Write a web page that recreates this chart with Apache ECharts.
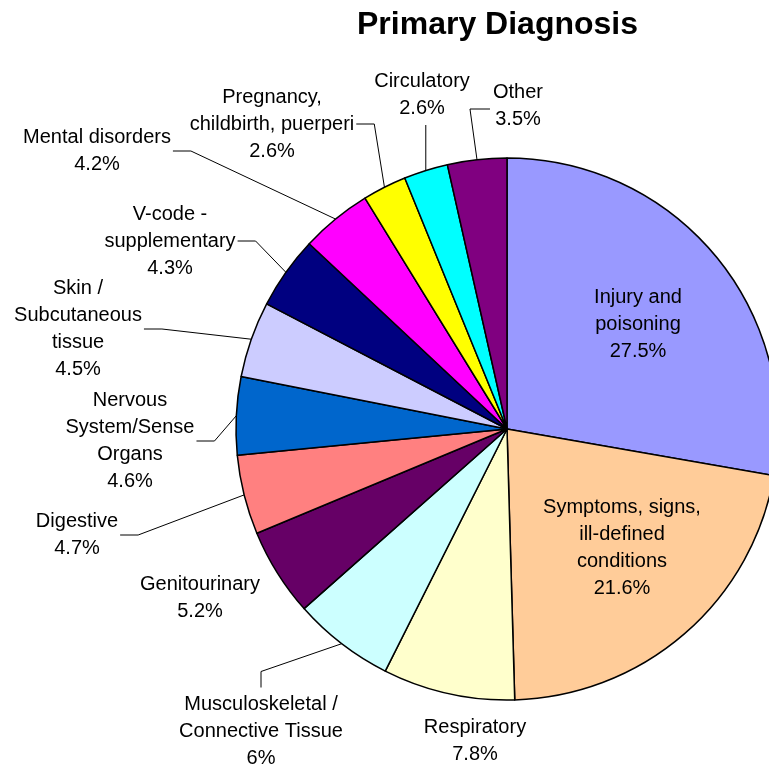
<!DOCTYPE html>
<html>
<head>
<meta charset="utf-8">
<script src="https://cdn.jsdelivr.net/npm/echarts@6/dist/echarts.min.js"></script>
<style>
  html, body { margin: 0; padding: 0; background: #fff; }
  #chart { width: 769px; height: 767px; }
</style>
</head>
<body>
<div id="chart"></div>
<script>
// slice names (line breaks as in the picture) and percentages, clockwise from 12 o'clock
const categories = [
  'Injury and\npoisoning',
  'Symptoms, signs,\nill-defined\nconditions',
  'Respiratory',
  'Musculoskeletal /\nConnective Tissue',
  'Genitourinary',
  'Digestive',
  'Nervous\nSystem/Sense\nOrgans',
  'Skin /\nSubcutaneous\ntissue',
  'V-code -\nsupplementary',
  'Mental disorders',
  'Pregnancy,\nchildbirth, puerperi',
  'Circulatory',
  'Other'
]
const percents = [27.5, 21.6, 7.8, 6, 5.2, 4.7, 4.6, 4.5, 4.3, 4.2, 2.6, 2.6, 3.5]
const colors = ['#9999FF', '#FFCC99', '#FFFFCC', '#CCFFFF', '#660066', '#FF8080', '#0066CC',
  '#CCCCFF', '#000080', '#FF00FF', '#FFFF00', '#00FFFF', '#800080']

// label centres and how the leader line runs
const labelPos = [[638, 324], [622, 548], [475, 741], [261, 731], [200, 598], [77, 535], [130, 441],
  [78, 329], [170, 241], [97, 151], [272, 124], [422, 95], [518, 106]]
const lineKind = [null, null, null, 'up', null, 'right', 'right', 'right', 'right', 'right', 'right', 'down', 'left']

let chart = echarts.init(document.getElementById('chart'))

let option = {
  animation: false,
  title: {
    text: 'Primary Diagnosis',
    left: 352,
    top: 4,
    textStyle: { fontFamily: 'Liberation Sans', fontWeight: 'bold', fontSize: 32, color: '#000' }
  },
  series: [{
    type: 'pie',
    center: [507, 429],
    radius: 271,
    startAngle: 90,
    clockwise: true,
    avoidLabelOverlap: false,
    itemStyle: { borderColor: '#000', borderWidth: 1.5 },
    label: {
      show: true,
      formatter: '{b}\n{c}%',
      color: '#000',
      fontFamily: 'Liberation Sans',
      fontSize: 20,
      lineHeight: 27,
      align: 'center'
    },
    labelLine: { show: true, lineStyle: { color: '#000', width: 1 } },
    labelLayout: function (p) {
      let i = p.dataIndex
      let pos = labelPos[i]
      let w = p.labelRect.width, h = p.labelRect.height
      let res = { x: pos[0], y: pos[1], align: 'center', verticalAlign: 'middle' }
      let e = p.labelLinePoints && p.labelLinePoints[0]
      let kind = lineKind[i]
      if (e && kind) {
        let pts
        if (kind === 'right') {
          let x0 = pos[0] + w / 2 + 2
          pts = [e, [x0 + 18, pos[1]], [x0, pos[1]]]
        } else if (kind === 'left') {
          let x0 = pos[0] - w / 2 - 3
          pts = [e, [x0 - 20, pos[1] + 3], [x0, pos[1] + 3]]
        } else if (kind === 'up') {
          let y0 = pos[1] - h / 2 - 3
          pts = [e, [pos[0], y0 - 16], [pos[0], y0]]
        } else {
          let y0 = pos[1] + h / 2 + 3
          pts = [e, [e[0], y0], [e[0], y0]]
        }
        res.labelLinePoints = pts
      }
      return res
    },
    data: categories.map((name, i) => ({
      name: name,
      value: percents[i],
      itemStyle: { color: colors[i] },
      labelLine: { show: lineKind[i] !== null }
    }))
  }]
}
chart.setOption(option)
</script>
</body>
</html>
